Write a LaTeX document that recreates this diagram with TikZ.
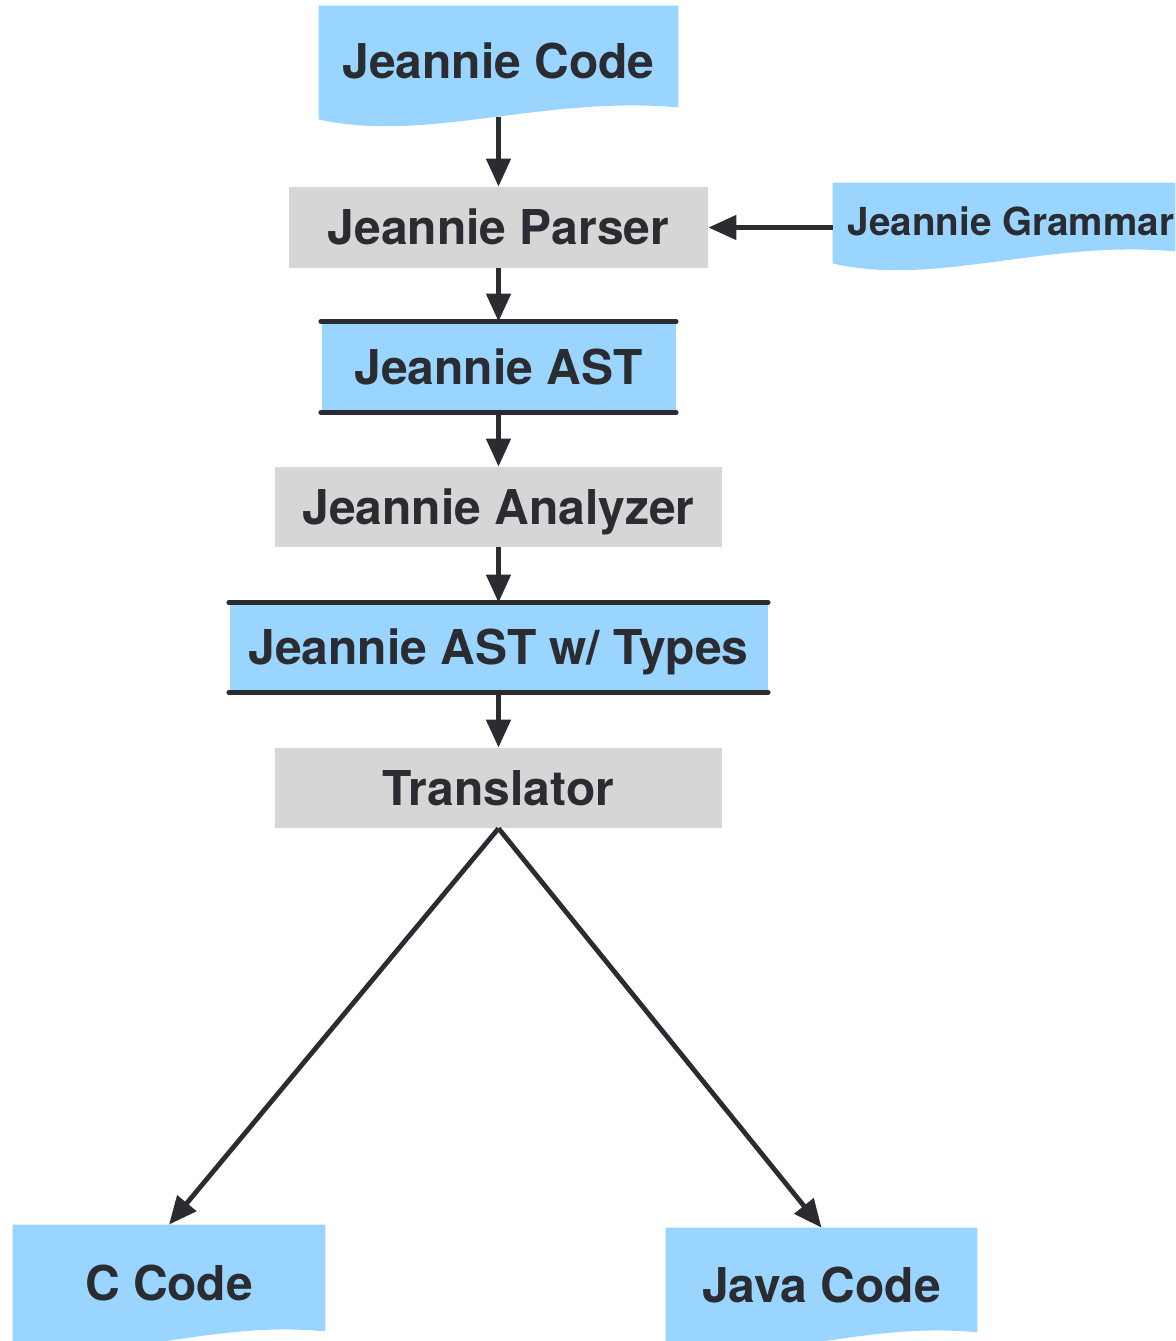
\documentclass[tikz,border=0pt]{standalone}
\usepackage{fontspec}
\setmainfont{TeX Gyre Heros}
\usetikzlibrary{arrows.meta,calc,backgrounds}
\definecolor{docblue}{HTML}{99D5FF}
\definecolor{procgray}{HTML}{D6D6D6}
\definecolor{ink}{HTML}{2A2C31}

% wavy-bottomed document shape filled behind a named node
\newcommand\docshape[1]{%
  \fill[docblue] (#1.north west) -- (#1.north east)
    -- ($(#1.south east)+(0,-10)$)
    .. controls ($(#1.south west)!0.62!(#1.south east)+(0,-22)$)
    and ($(#1.south west)!0.3!(#1.south east)+(0,26)$)
    .. ($(#1.south west)+(0,2)$) -- cycle;}

\begin{document}
\begin{tikzpicture}[x=0.5pt,y=-0.5pt,
  box/.style={inner sep=0pt, text=ink,
    font=\bfseries\fontsize{24}{28}\selectfont,
    text height=17.3pt, text depth=0pt},
  proc/.style={box, fill=procgray},
  data/.style={box, fill=docblue},
  doc/.style={box},
  arr/.style={draw=ink, line width=2.4pt, -{Triangle[length=14pt,width=12pt]}},
  edge rule/.style={draw=ink, line width=2.7pt, line cap=round}]

\useasboundingbox (0,0) rectangle (1175,1341);

\node[doc, minimum width=359*0.5pt, minimum height=111*0.5pt] (jcode) at (498.5,61.5) {Jeannie Code};
\node[proc, minimum width=419*0.5pt, minimum height=81*0.5pt] (parser) at (498.5,227.5) {Jeannie Parser};
\node[doc, font=\bfseries\fontsize{19.3}{23}\selectfont, text height=13.9pt,
      minimum width=342*0.5pt, minimum height=78*0.5pt] (gram) at (1004,222) {\hspace*{7pt}Jeannie Grammar};
\node[data, minimum width=354*0.5pt, minimum height=90*0.5pt] (ast) at (498.5,367) {Jeannie AST};
\node[proc, minimum width=447*0.5pt, minimum height=80*0.5pt] (analyzer) at (498.5,507) {Jeannie Analyzer};
\node[data, minimum width=538*0.5pt, minimum height=89*0.5pt] (astt) at (498.5,647.5) {Jeannie AST w/ Types};
\node[proc, minimum width=447*0.5pt, minimum height=80*0.5pt] (trans) at (498.5,788) {Translator};
\node[doc, minimum width=312*0.5pt, minimum height=116*0.5pt] (ccode) at (169,1283) {C Code};
\node[doc, minimum width=311*0.5pt, minimum height=114*0.5pt] (jvcode) at (821.5,1285) {Java Code};

\begin{scope}[on background layer]
  \docshape{jcode}
  \docshape{gram}
  \docshape{ccode}
  \docshape{jvcode}
\end{scope}

% top and bottom rules of the data stores
\draw[edge rule] (ast.north west) -- (ast.north east);
\draw[edge rule] (ast.south west) -- (ast.south east);
\draw[edge rule] (astt.north west) -- (astt.north east);
\draw[edge rule] (astt.south west) -- (astt.south east);

% flow
\draw[arr] (jcode.south) -- (parser.north);
\draw[arr] (gram.west |- parser.east) -- (parser.east);
\draw[arr] (parser.south) -- (ast.north);
\draw[arr] (ast.south) -- (analyzer.north);
\draw[arr] (analyzer.south) -- (astt.north);
\draw[arr] (astt.south) -- (trans.north);
\draw[arr] (trans.south) -- (ccode.north);
\draw[arr] (trans.south) -- (jvcode.north);
\end{tikzpicture}
\end{document}
